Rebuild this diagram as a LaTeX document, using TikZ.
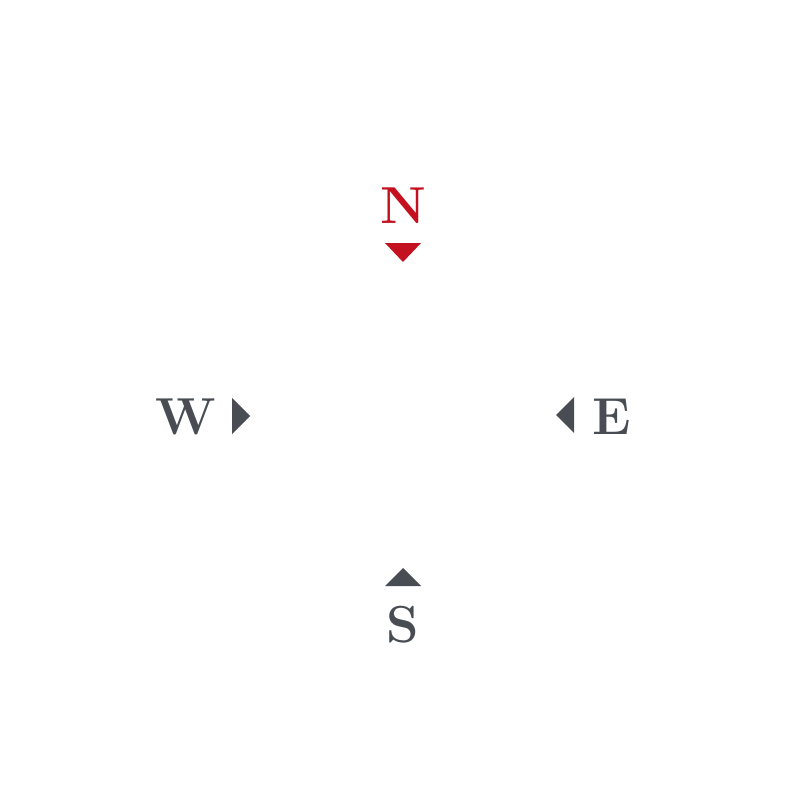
\documentclass[tikz,border=0pt]{standalone}
\usepackage{fontspec}
\definecolor{compred}{HTML}{C3111F}
\definecolor{compgray}{HTML}{474D53}
\begin{document}
\begin{tikzpicture}[x=0.025cm,y=-0.025cm,
  letter/.style={inner sep=0pt,anchor=base,font=\fontsize{37}{40}\selectfont\bfseries},
  redfill/.style={fill=compred,draw=none},
  grayfill/.style={fill=compgray,draw=none}]
\useasboundingbox (0,0) rectangle (800,800);
\fill[white] (0,0) rectangle (800,800);
% North
\node[letter,text=compred] (N) at (403,224) {N};
\fill[redfill] (385,243) -- (421,243) -- (403,262) -- cycle;
% West
\node[letter,text=compgray] (W) at (186,434) {W};
\fill[grayfill] (232,398) -- (250,416) -- (232,434) -- cycle;
% East
\node[letter,text=compgray] (E) at (612,434) {E};
\fill[grayfill] (574,397) -- (556,415) -- (574,433) -- cycle;
% South
\fill[grayfill] (385,586) -- (421,586) -- (403,568) -- cycle;
\node[letter,text=compgray] (S) at (403,642) {S};
\end{tikzpicture}
\end{document}
